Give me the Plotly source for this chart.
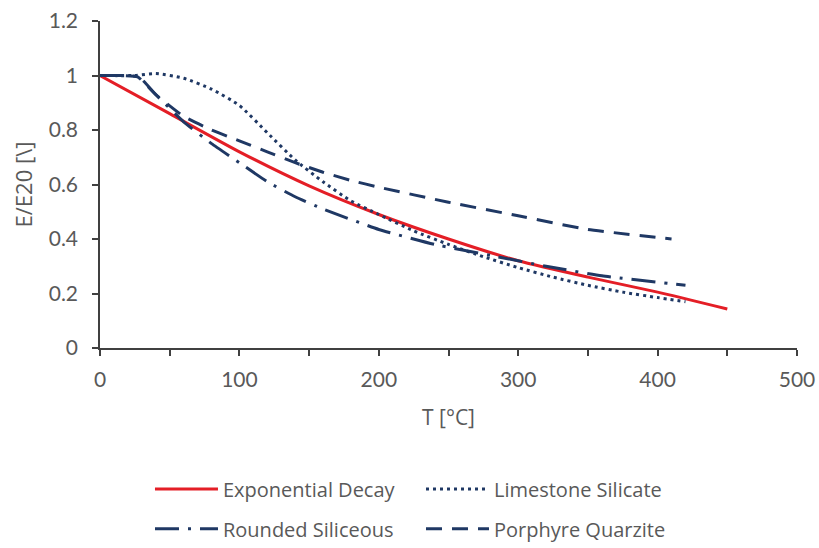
import plotly.graph_objects as go

# Temperature (°C) and normalised elastic modulus E/E20 per curve
exp_T = [0, 50, 100, 150, 200, 250, 300, 350, 400, 450]
exp_E = [1.0, 0.86, 0.72, 0.595, 0.49, 0.40, 0.32, 0.26, 0.205, 0.143]

lime_T = [0, 25, 40, 60, 80, 100, 120, 140, 160, 180, 200, 225, 250, 275, 300, 325, 350, 375, 400, 420]
lime_E = [1.0, 1.0, 1.007, 0.99, 0.95, 0.89, 0.79, 0.69, 0.61, 0.54, 0.49, 0.43, 0.38, 0.335, 0.295, 0.26, 0.23, 0.205, 0.185, 0.17]

round_T = [0, 15, 28, 40, 60, 80, 100, 120, 140, 160, 200, 240, 280, 320, 360, 420]
round_E = [1.0, 1.0, 0.995, 0.93, 0.83, 0.75, 0.68, 0.61, 0.555, 0.51, 0.435, 0.38, 0.34, 0.30, 0.265, 0.23]

porph_T = [0, 15, 27, 40, 60, 80, 100, 120, 140, 160, 180, 200, 250, 300, 350, 410]
porph_E = [1.0, 1.0, 0.995, 0.93, 0.85, 0.80, 0.76, 0.72, 0.68, 0.645, 0.615, 0.59, 0.535, 0.485, 0.435, 0.40]

RED = "#E41E26"
NAVY = "#1F3864"
GREY = "#595959"
AXIS = "#404040"
FONT = "Lato"
LFONT = "Open Sans"

fig = go.Figure()
fig.add_trace(go.Scatter(x=exp_T, y=exp_E, name="Exponential Decay", mode="lines",
                         line=dict(color=RED, width=3, shape="spline", smoothing=0.6), legend="legend"))
fig.add_trace(go.Scatter(x=lime_T, y=lime_E, name="Limestone Silicate", mode="lines",
                         line=dict(color=NAVY, width=3, dash="3px,4px", shape="spline", smoothing=0.6),
                         legend="legend"))
fig.add_trace(go.Scatter(x=round_T, y=round_E, name="Rounded Siliceous", mode="lines",
                         line=dict(color=NAVY, width=3, dash="24px,9px,3px,9px", shape="spline", smoothing=0.4),
                         legend="legend2"))
fig.add_trace(go.Scatter(x=porph_T, y=porph_E, name="Porphyre Quarzite", mode="lines",
                         line=dict(color=NAVY, width=3, dash="16px,10px", shape="spline", smoothing=0.4),
                         legend="legend2"))

legend_common = dict(orientation="h", xanchor="left", x=0.0717, yanchor="middle",
                     font=dict(family=LFONT, size=20, color=GREY),
                     itemwidth=63, entrywidth=193, entrywidthmode="pixels",
                     bgcolor="rgba(0,0,0,0)")

fig.update_layout(
    width=819, height=548,
    margin=dict(l=100, r=22, t=21, b=200, autoexpand=False),
    paper_bgcolor="white", plot_bgcolor="white",
    font=dict(family=FONT, color=GREY),
    showlegend=True,
    legend=dict(legend_common, y=-0.431),
    legend2=dict(legend_common, y=-0.553),
    xaxis=dict(range=[0, 500], dtick=100, tick0=0, showgrid=False, zeroline=False,
               showline=True, linecolor=AXIS, linewidth=1.5,
               ticks="outside", ticklen=6, tickcolor=AXIS, tickwidth=1.5,
               ticklabelstandoff=6,
               minor=dict(dtick=50, ticks="outside", ticklen=6, tickcolor=AXIS, tickwidth=1.5),
               tickfont=dict(family=FONT, size=21, color=GREY),
               title=dict(text="T [°C]", font=dict(family=LFONT, size=21, color=GREY), standoff=20)),
    yaxis=dict(range=[0, 1.2], dtick=0.2, tick0=0, showgrid=False, zeroline=False,
               showline=True, linecolor=AXIS, linewidth=1.5,
               ticks="outside", ticklen=6, tickcolor=AXIS, tickwidth=1.5,
               ticklabelstandoff=10,
               tickfont=dict(family=FONT, size=21, color=GREY),
               title=dict(text="E/E20 [\\]", font=dict(family=LFONT, size=22, color=GREY), standoff=10)),
)

fig.write_html("out.html")
